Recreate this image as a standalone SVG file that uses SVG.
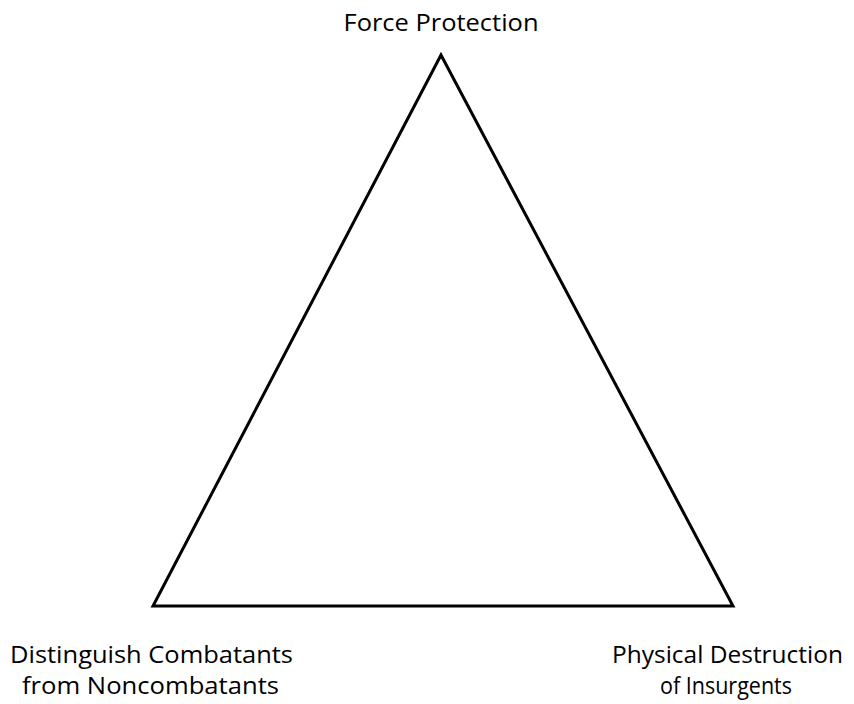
<svg xmlns="http://www.w3.org/2000/svg" width="854" height="704" viewBox="0 0 854 704">
<style>
text{font-family:"Open Sans","Liberation Sans",sans-serif;font-size:24px;fill:#000;text-anchor:middle}
</style>
<rect width="854" height="704" fill="#fff"/>
<g id="connectors">
<polygon points="441,55 153,606 733,606" fill="none" stroke="#000" stroke-width="3" stroke-linejoin="miter"/>
</g>
<g id="force-protection"><text x="441" y="30.5" textLength="195" lengthAdjust="spacingAndGlyphs">Force Protection</text></g>
<g id="distinguish"><text x="151.5" y="663" textLength="283" lengthAdjust="spacingAndGlyphs">Distinguish Combatants</text><text x="150.5" y="694" textLength="257" lengthAdjust="spacingAndGlyphs">from Noncombatants</text></g>
<g id="physical"><text x="727.5" y="663" textLength="231" lengthAdjust="spacingAndGlyphs">Physical Destruction</text><text x="726" y="694" textLength="132" lengthAdjust="spacingAndGlyphs">of Insurgents</text></g>
</svg>
